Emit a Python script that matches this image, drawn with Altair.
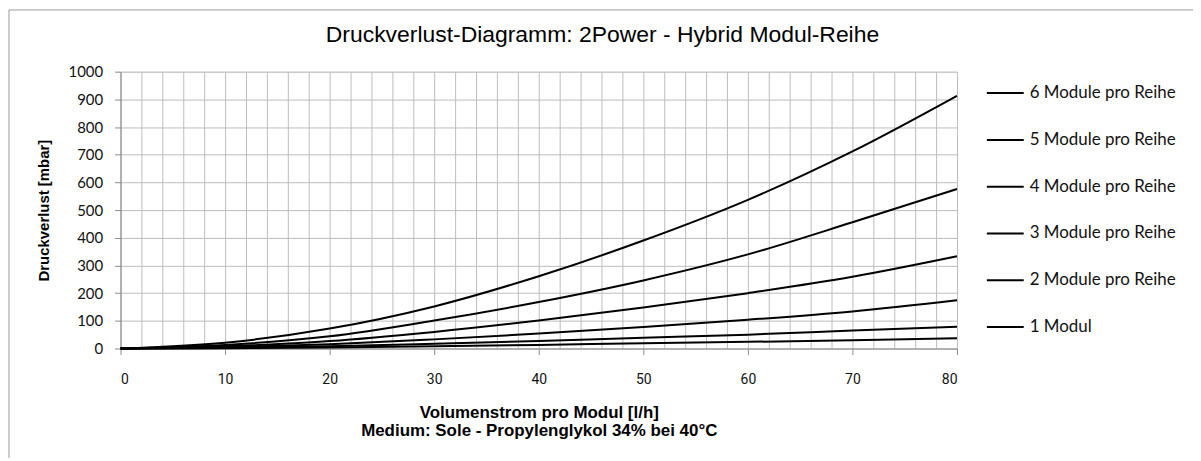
import altair as alt
import pandas as pd

# ---- data ----
flow = [0, 10, 20, 30, 40, 50, 60, 70, 80]
series = ["6 Module pro Reihe", "5 Module pro Reihe", "4 Module pro Reihe",
          "3 Module pro Reihe", "2 Module pro Reihe", "1 Modul"]
m6 = [0, 21, 72, 152, 261, 390, 537, 712, 913]
m5 = [0, 13, 44, 101, 168, 246, 340, 456, 576]
m4 = [0, 8, 27, 60, 101, 148, 200, 259, 333]
m3 = [0, 4, 15, 33, 54, 78, 104, 134, 174]
m2 = [0, 2, 8, 17, 27, 39, 50, 65, 79]
m1 = [0, 1, 4, 8, 13, 19, 24, 30, 37]
x_ticks = [0, 10, 20, 30, 40, 50, 60, 70, 80]
x_grid = list(range(0, 81, 2))
y_ticks = list(range(0, 1001, 100))
stroke_widths = [2, 2, 2, 2, 2, 3]

values = [m6, m5, m4, m3, m2, m1]
rows = []
for name, vals in zip(series, values):
    for f, v in zip(flow, vals):
        rows.append({"flow": f, "dp": v, "serie": name})
df = pd.DataFrame(rows)

xscale = alt.Scale(domain=[0, 80], nice=False, zero=False)
yscale = alt.Scale(domain=[0, 1000], nice=False)

y_axis = alt.Axis(values=y_ticks, format="d", title="Druckverlust [mbar]",
                  grid=True, gridColor="#bcbcbc", gridWidth=1,
                  domainColor="#8a8a8a", tickColor="#8a8a8a", tickSize=6,
                  labelFont="Lato", labelFontSize=15, labelColor="#111",
                  labelPadding=12, titleFont="Liberation Sans",
                  titleFontSize=15, titleFontWeight="bold",
                  titleColor="#000", titlePadding=17)

grid = alt.Chart(df).mark_line(opacity=0).encode(
    x=alt.X("flow:Q", scale=xscale,
            axis=alt.Axis(values=x_grid, grid=True, labels=False, ticks=False,
                          domain=False, title=None, orient="bottom",
                          gridColor="#bcbcbc", gridWidth=1)),
    y=alt.Y("dp:Q", scale=yscale, axis=y_axis),
    detail="serie:N",
)

lines = alt.Chart(df).mark_line(color="black", interpolate="monotone").encode(
    x=alt.X("flow:Q", scale=xscale,
            axis=alt.Axis(values=x_ticks, grid=False, orient="bottom",
                          title=["Volumenstrom pro Modul [l/h]",
                                 "Medium: Sole - Propylenglykol 34% bei 40°C"],
                          domainColor="#8a8a8a", tickColor="#8a8a8a",
                          tickSize=6, labelFont="Roboto",
                          labelFontSize=14, labelColor="#111",
                          labelPadding=18, titleFont="Liberation Sans",
                          titleFontSize=17, titleFontWeight="bold",
                          titleColor="#000", titlePadding=18,
                          titleLineHeight=18)),
    y=alt.Y("dp:Q", scale=yscale, axis=y_axis),
    strokeWidth=alt.StrokeWidth(
        "serie:N",
        scale=alt.Scale(domain=series, range=stroke_widths),
        legend=alt.Legend(title=None, orient="none", legendX=869, legendY=2,
                          symbolType="stroke", symbolSize=1369,
                          symbolStrokeColor="black", labelFont="Lato",
                          labelFontSize=17, labelColor="#111",
                          rowPadding=19, labelOffset=5)),
)

frame_df = pd.DataFrame({"k": [0]})
frame = alt.Chart(frame_df).mark_rect(fillOpacity=0, stroke="#9a9a9a",
                                      strokeWidth=1).encode(
    x=alt.value(-112), x2=alt.value(1100),
    y=alt.value(-62), y2=alt.value(420),
)

chart = alt.layer(frame, grid, lines).resolve_axis(x="independent").properties(
    width=840, height=278,
    autosize=alt.AutoSizeParams(type="none"),
    padding={"left": 113, "top": 63, "right": 237, "bottom": 109},
    title=alt.TitleParams("Druckverlust-Diagramm: 2Power - Hybrid Modul-Reihe",
                          font="Liberation Sans", fontSize=23,
                          fontWeight="normal", color="#000", anchor="middle",
                          dx=64, offset=-38),
).configure_view(stroke=None).configure(background="white")

chart.save("out.html", embed_options={"renderer": "svg", "actions": False})
